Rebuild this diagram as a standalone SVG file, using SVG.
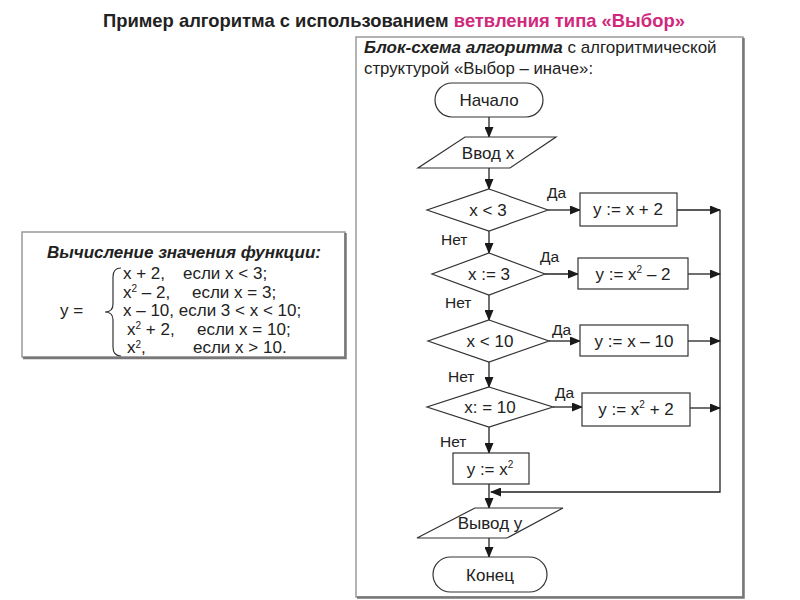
<svg xmlns="http://www.w3.org/2000/svg" width="800" height="600" viewBox="0 0 800 600">
<defs>
<marker id="arr" markerUnits="userSpaceOnUse" markerWidth="11" markerHeight="9" refX="10" refY="4.5" orient="auto">
<path d="M0,0 L11,4.5 L0,9 z" fill="#1a1a1a"/>
</marker>
<style>
text{font-family:"Liberation Sans",Arial,sans-serif;fill:#222}
.t{font-size:17px;text-anchor:middle}
.lbl{font-size:15.5px}
.shape{fill:#fff;stroke:#333;stroke-width:1.2}
.con line,.con path{stroke:#222;stroke-width:1.3;fill:none}
.a{marker-end:url(#arr)}
.f{font-size:17px}
</style>
</defs>
<rect width="800" height="600" fill="#fff"/>

<g id="title">
<text x="103" y="27" font-size="18.4" font-weight="bold">Пример алгоритма с использованием <tspan fill="#d0287c">ветвления типа «Выбор»</tspan></text>
</g>

<g id="formula-box">
<rect x="22" y="232" width="323" height="125" fill="#fff" stroke="#999" stroke-width="1.5"/>
<path d="M345.5,233 V358 H23" fill="none" stroke="#777" stroke-width="2.5"/>
<text x="184" y="258" font-size="17" font-weight="bold" font-style="italic" text-anchor="middle">Вычисление значения функции:</text>
<text x="60" y="316" class="f">y =</text>
<path d="M121,268 Q113,268 113,277 L113,304 Q113,312 105,312 Q113,312 113,320 L113,347 Q113,356 121,356" fill="none" stroke="#333" stroke-width="1.2"/>
<text class="f" y="279"><tspan x="123">x + 2,</tspan><tspan x="183">если x &lt; 3;</tspan></text>
<text class="f" y="297.5"><tspan x="123">x</tspan><tspan dy="-5.5" font-size="10">2</tspan><tspan dy="5.5"> – 2,</tspan><tspan x="192">если x = 3;</tspan></text>
<text class="f" y="316"><tspan x="123">x – 10, если 3 &lt; x &lt; 10;</tspan></text>
<text class="f" y="334.5"><tspan x="127">x</tspan><tspan dy="-5.5" font-size="10">2</tspan><tspan dy="5.5"> + 2,</tspan><tspan x="197">если x = 10;</tspan></text>
<text class="f" y="353"><tspan x="127">x</tspan><tspan dy="-5.5" font-size="10">2</tspan><tspan dy="5.5">,</tspan><tspan x="193">если x &gt; 10.</tspan></text>
</g>

<g id="frame">
<rect x="356" y="37" width="387" height="560" fill="none" stroke="#999" stroke-width="1.5"/>
<path d="M743.5,38 V597.5 H357" fill="none" stroke="#777" stroke-width="2.5"/>
<text x="364" y="53" font-size="17"><tspan font-weight="bold" font-style="italic">Блок-схема алгоритма</tspan> с алгоритмической</text>
<text x="364" y="74" font-size="16.8">структурой «Выбор – иначе»:</text>
</g>

<g class="con" id="connectors">
<line x1="489" y1="117" x2="489" y2="137" class="a"/>
<line x1="489" y1="168" x2="489" y2="189" class="a"/>
<line x1="548" y1="210" x2="580" y2="210" class="a"/>
<line x1="677" y1="210" x2="720" y2="210" class="a"/>
<line x1="489" y1="231" x2="489" y2="253" class="a"/>
<line x1="545" y1="274" x2="578" y2="274" class="a"/>
<line x1="688" y1="274" x2="720" y2="274" class="a"/>
<line x1="489" y1="295" x2="489" y2="320" class="a"/>
<line x1="549" y1="341" x2="580" y2="341" class="a"/>
<line x1="688" y1="341" x2="720" y2="341" class="a"/>
<line x1="489" y1="362" x2="489" y2="387" class="a"/>
<line x1="553" y1="407" x2="582" y2="407" class="a"/>
<line x1="690" y1="408" x2="720" y2="408" class="a"/>
<line x1="489" y1="427" x2="489" y2="453" class="a"/>
<line x1="489" y1="484" x2="489" y2="508" class="a"/>
<path d="M720,210 V492 H491" class="a"/>
<line x1="489" y1="538" x2="489" y2="557" class="a"/>
</g>

<g id="start">
<rect x="435" y="83" width="108" height="34" rx="17" class="shape"/>
<text x="489" y="106" class="t">Начало</text>
</g>
<g id="input">
<polygon points="465,137 556,137 510,168 418,168" class="shape"/>
<text x="488" y="159" class="t">Ввод x</text>
</g>
<g id="cond1">
<polygon points="489,189 548,210 489,231 427,210" class="shape"/>
<text x="488" y="216" class="t">x &lt; 3</text>
<text x="547" y="198" class="lbl">Да</text>
<text x="441" y="245" class="lbl">Нет</text>
</g>
<g id="act1">
<rect x="580" y="193" width="97" height="33" class="shape"/>
<text x="628" y="215" class="t">y := x + 2</text>
</g>
<g id="cond2">
<polygon points="489,253 545,274 489,295 432,274" class="shape"/>
<text x="489" y="280" class="t">x := 3</text>
<text x="540" y="262" class="lbl">Да</text>
<text x="445" y="308" class="lbl">Нет</text>
</g>
<g id="act2">
<rect x="578" y="258" width="110" height="31" class="shape"/>
<text x="633" y="280" class="t">y := x<tspan dy="-7" font-size="10">2</tspan><tspan dy="7"> – 2</tspan></text>
</g>
<g id="cond3">
<polygon points="489,320 549,341 489,362 428,341" class="shape"/>
<text x="490" y="347" class="t">x &lt; 10</text>
<text x="552" y="335" class="lbl">Да</text>
<text x="448" y="382" class="lbl">Нет</text>
</g>
<g id="act3">
<rect x="580" y="325" width="108" height="31" class="shape"/>
<text x="634" y="347" class="t">y := x – 10</text>
</g>
<g id="cond4">
<polygon points="489,387 553,407 489,427 427,407" class="shape"/>
<text x="490" y="413" class="t">x: = 10</text>
<text x="555" y="398" class="lbl">Да</text>
<text x="440" y="447" class="lbl">Нет</text>
</g>
<g id="act4">
<rect x="582" y="393" width="108" height="33" class="shape"/>
<text x="636" y="415" class="t">y := x<tspan dy="-7" font-size="10">2</tspan><tspan dy="7"> + 2</tspan></text>
</g>
<g id="act5">
<rect x="453" y="453" width="76" height="31" class="shape"/>
<text x="490" y="475" class="t">y := x<tspan dy="-7" font-size="10">2</tspan></text>
</g>
<g id="output">
<polygon points="475,508 563,508 507,538 417,538" class="shape"/>
<text x="490" y="529" class="t">Вывод y</text>
</g>
<g id="end">
<rect x="433" y="557" width="114" height="35" rx="17.5" class="shape"/>
<text x="490" y="581" class="t">Конец</text>
</g>
</svg>
